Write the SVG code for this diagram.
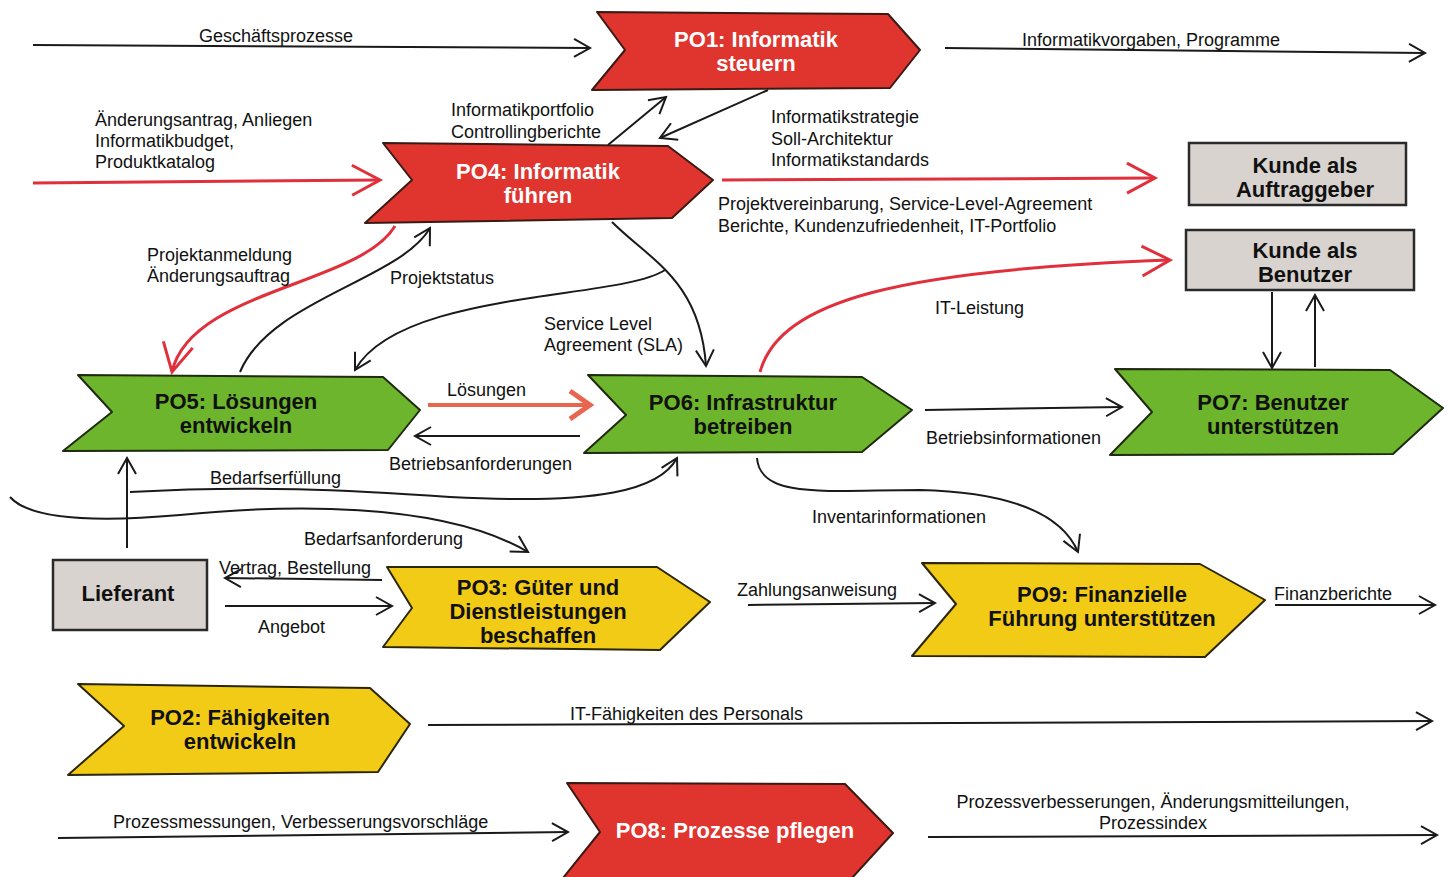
<svg xmlns="http://www.w3.org/2000/svg" width="1449" height="877" viewBox="0 0 1449 877">
<style>
.lbl{font-family:"Liberation Sans",Arial,sans-serif;font-size:18px;fill:#111}
.nt{font-family:"Liberation Sans",Arial,sans-serif;font-size:22px;font-weight:bold;text-anchor:middle}
.w{fill:#fff}.b{fill:#111}
.red{fill:#e0352f;stroke:#3a1a14;stroke-width:2;stroke-linejoin:round}
.green{fill:#6db52c;stroke:#1f2a10;stroke-width:2;stroke-linejoin:round}
.yellow{fill:#f1cb16;stroke:#2c2608;stroke-width:2;stroke-linejoin:round}
.gray{fill:#d9d3cf;stroke:#2a2a2a;stroke-width:2.5}
.c{fill:none;stroke:#1a1a1a;stroke-width:2}
.cr{fill:none;stroke:#e0303c;stroke-width:3}
.cs{fill:none;stroke:#e8654f;stroke-width:4}
</style>
<defs>
<marker id="ab" markerUnits="userSpaceOnUse" markerWidth="24" markerHeight="24" viewBox="0 0 24 24" refX="21" refY="12" orient="auto"><path d="M5,3 L21,12 L5,21" fill="none" stroke="#1a1a1a" stroke-width="2"/></marker>
<marker id="ar" markerUnits="userSpaceOnUse" markerWidth="40" markerHeight="40" viewBox="0 0 40 40" refX="36" refY="20" orient="auto"><path d="M8,5 L36,20 L8,35" fill="none" stroke="#e0303c" stroke-width="3"/></marker>
<marker id="as" markerUnits="userSpaceOnUse" markerWidth="40" markerHeight="40" viewBox="0 0 40 40" refX="34" refY="20" orient="auto"><path d="M14,6 L34,20 L14,34" fill="none" stroke="#e8654f" stroke-width="5"/></marker>
</defs>
<rect width="1449" height="877" fill="#fff"/>

<g id="connectors">
<path class="c" d="M33,45 L590,48" marker-end="url(#ab)"/>
<path class="c" d="M945,48 L1425,53" marker-end="url(#ab)"/>
<path class="cr" d="M33,183 L380,180" marker-end="url(#ar)"/>
<path class="c" d="M608,145 L666,97" marker-end="url(#ab)"/>
<path class="c" d="M768,90 L660,138" marker-end="url(#ab)"/>
<path class="cr" d="M722,180 L1155,178" marker-end="url(#ar)"/>
<path class="cr" d="M395,226 C360,285 190,290 172,372" marker-end="url(#ar)"/>
<path class="c" d="M240,372 C270,300 400,280 430,228" marker-end="url(#ab)"/>
<path class="c" d="M612,222 C650,260 700,280 706,366" marker-end="url(#ab)"/>
<path class="c" d="M665,270 C620,300 400,290 355,370" marker-end="url(#ab)"/>
<path class="cr" d="M760,372 C780,300 900,270 1170,260" marker-end="url(#ar)"/>
<path class="c" d="M1272,292 L1272,368" marker-end="url(#ab)"/>
<path class="c" d="M1315,367 L1315,295" marker-end="url(#ab)"/>
<path class="cs" d="M428,405 L590,405" marker-end="url(#as)"/>
<path class="c" d="M580,436 L415,436" marker-end="url(#ab)"/>
<path class="c" d="M925,410 L1122,407" marker-end="url(#ab)"/>
<path class="c" d="M127,548 L127,458" marker-end="url(#ab)"/>
<path class="c" d="M130,492 C250,485 350,490 450,497 C600,505 660,490 677,458" marker-end="url(#ab)"/>
<path class="c" d="M10,497 C30,520 100,522 180,515 C280,505 440,500 528,552" marker-end="url(#ab)"/>
<path class="c" d="M757,458 C760,500 830,490 920,490 C1000,492 1060,510 1078,552" marker-end="url(#ab)"/>
<path class="c" d="M382,580 L225,578" marker-end="url(#ab)"/>
<path class="c" d="M225,606 L392,606" marker-end="url(#ab)"/>
<path class="c" d="M748,605 L935,603" marker-end="url(#ab)"/>
<path class="c" d="M1275,605 L1435,605" marker-end="url(#ab)"/>
<path class="c" d="M428,725 L1432,721" marker-end="url(#ab)"/>
<path class="c" d="M58,838 L568,832" marker-end="url(#ab)"/>
<path class="c" d="M928,837 L1437,835" marker-end="url(#ab)"/>
</g>

<g id="labels">
<text class="lbl" x="199" y="42">Geschäftsprozesse</text>
<text class="lbl" x="1022" y="46">Informatikvorgaben, Programme</text>
<text class="lbl" x="95" y="126">Änderungsantrag, Anliegen</text>
<text class="lbl" x="95" y="147">Informatikbudget,</text>
<text class="lbl" x="95" y="168">Produktkatalog</text>
<text class="lbl" x="451" y="116">Informatikportfolio</text>
<text class="lbl" x="451" y="138">Controllingberichte</text>
<text class="lbl" x="771" y="123">Informatikstrategie</text>
<text class="lbl" x="771" y="145">Soll-Architektur</text>
<text class="lbl" x="771" y="166">Informatikstandards</text>
<text class="lbl" x="718" y="210">Projektvereinbarung, Service-Level-Agreement</text>
<text class="lbl" x="718" y="232">Berichte, Kundenzufriedenheit, IT-Portfolio</text>
<text class="lbl" x="147" y="261">Projektanmeldung</text>
<text class="lbl" x="147" y="282">Änderungsauftrag</text>
<text class="lbl" x="390" y="284">Projektstatus</text>
<text class="lbl" x="544" y="330">Service Level</text>
<text class="lbl" x="544" y="351">Agreement (SLA)</text>
<text class="lbl" x="935" y="314">IT-Leistung</text>
<text class="lbl" x="447" y="396">Lösungen</text>
<text class="lbl" x="389" y="470">Betriebsanforderungen</text>
<text class="lbl" x="926" y="444">Betriebsinformationen</text>
<text class="lbl" x="210" y="484">Bedarfserfüllung</text>
<text class="lbl" x="304" y="545">Bedarfsanforderung</text>
<text class="lbl" x="812" y="523">Inventarinformationen</text>
<text class="lbl" x="219" y="574">Vertrag, Bestellung</text>
<text class="lbl" x="258" y="633">Angebot</text>
<text class="lbl" x="737" y="596">Zahlungsanweisung</text>
<text class="lbl" x="1274" y="600">Finanzberichte</text>
<text class="lbl" x="570" y="720">IT-Fähigkeiten des Personals</text>
<text class="lbl" x="113" y="828">Prozessmessungen, Verbesserungsvorschläge</text>
<text class="lbl" x="1153" y="808" text-anchor="middle">Prozessverbesserungen, Änderungsmitteilungen,</text>
<text class="lbl" x="1153" y="829" text-anchor="middle">Prozessindex</text>
</g>

<g id="PO1">
<polygon class="red" points="597,12 888,14 920,50 890,88 592,90 625,50"/>
<text class="nt w" x="756" y="47">PO1: Informatik</text>
<text class="nt w" x="756" y="71">steuern</text>
</g>
<g id="PO4">
<polygon class="red" points="383,143 668,146 713,180 672,218 365,223 412,180"/>
<text class="nt w" x="538" y="179">PO4: Informatik</text>
<text class="nt w" x="538" y="203">führen</text>
</g>
<g id="KundeAuftraggeber">
<rect class="gray" x="1189" y="143" width="217" height="62"/>
<text class="nt b" x="1305" y="173">Kunde als</text>
<text class="nt b" x="1305" y="197">Auftraggeber</text>
</g>
<g id="KundeBenutzer">
<rect class="gray" x="1186" y="230" width="228" height="60"/>
<text class="nt b" x="1305" y="258">Kunde als</text>
<text class="nt b" x="1305" y="282">Benutzer</text>
</g>
<g id="PO5">
<polygon class="green" points="78,375 383,377 420,410 388,450 63,451 112,412"/>
<text class="nt b" x="236" y="409">PO5: Lösungen</text>
<text class="nt b" x="236" y="433">entwickeln</text>
</g>
<g id="PO6">
<polygon class="green" points="588,375 862,377 912,410 862,452 584,453 626,415"/>
<text class="nt b" x="743" y="410">PO6: Infrastruktur</text>
<text class="nt b" x="743" y="434">betreiben</text>
</g>
<g id="PO7">
<polygon class="green" points="1115,369 1390,370 1443,408 1393,454 1110,455 1152,412"/>
<text class="nt b" x="1273" y="410">PO7: Benutzer</text>
<text class="nt b" x="1273" y="434">unterstützen</text>
</g>
<g id="Lieferant">
<rect class="gray" x="53" y="560" width="154" height="70"/>
<text class="nt b" x="128" y="601">Lieferant</text>
</g>
<g id="PO3">
<polygon class="yellow" points="387,567 657,567 710,602 660,650 383,647 412,608"/>
<text class="nt b" x="538" y="595">PO3: Güter und</text>
<text class="nt b" x="538" y="619">Dienstleistungen</text>
<text class="nt b" x="538" y="643">beschaffen</text>
</g>
<g id="PO9">
<polygon class="yellow" points="922,563 1200,564 1265,600 1205,657 912,656 956,604"/>
<text class="nt b" x="1102" y="602">PO9: Finanzielle</text>
<text class="nt b" x="1102" y="626">Führung unterstützen</text>
</g>
<g id="PO2">
<polygon class="yellow" points="78,684 370,688 410,724 378,772 68,775 124,726"/>
<text class="nt b" x="240" y="725">PO2: Fähigkeiten</text>
<text class="nt b" x="240" y="749">entwickeln</text>
</g>
<g id="PO8">
<polygon class="red" points="567,783 845,784 893,833 852,878 563,878 600,832"/>
<text class="nt w" x="735" y="838">PO8: Prozesse pflegen</text>
</g>
</svg>
